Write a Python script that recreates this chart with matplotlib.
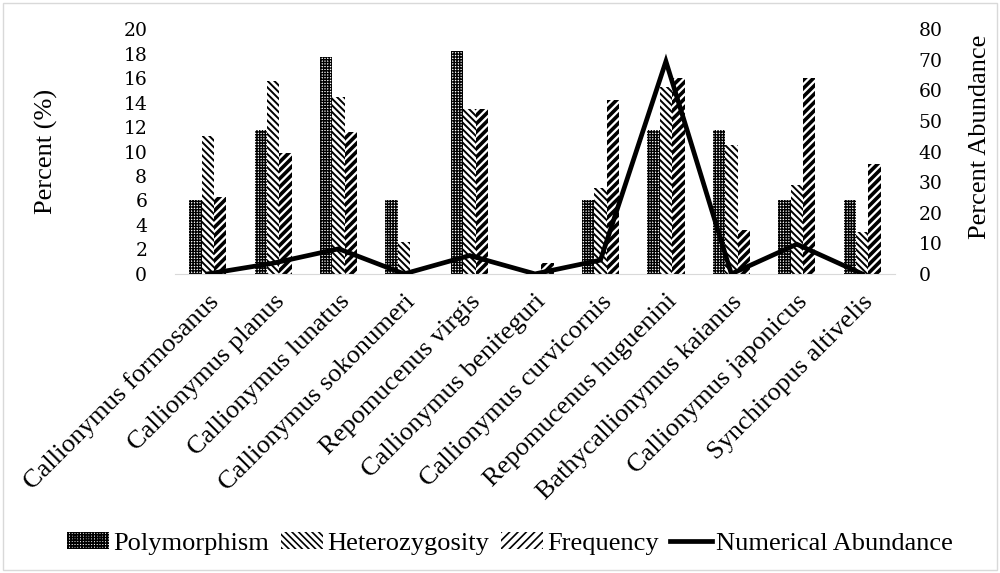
import numpy as np
import matplotlib
matplotlib.use("Agg")
import matplotlib.pyplot as plt
from matplotlib.patches import Rectangle
from matplotlib.lines import Line2D

species = ["Callionymus formosanus", "Callionymus planus", "Callionymus lunatus",
           "Callionymus sokonumeri", "Repomucenus virgis", "Callionymus beniteguri",
           "Callionymus curvicornis", "Repomucenus huguenini", "Bathycallionymus kaianus",
           "Callionymus japonicus", "Synchiropus altivelis"]
polymorphism = [6.0, 11.8, 17.7, 6.0, 18.2, 0.0, 6.0, 11.8, 11.8, 6.0, 6.0]
heterozygosity = [11.3, 15.8, 14.5, 2.6, 13.5, 0.0, 7.0, 15.3, 10.5, 7.3, 3.4]
frequency = [6.3, 9.9, 11.6, 0.0, 13.5, 0.9, 14.2, 16.0, 3.6, 16.0, 9.0]
abundance = [0.0, 3.5, 8.2, 0.0, 6.0, 0.0, 4.5, 69.5, 0.0, 9.7, 0.0]

plt.rcParams["font.family"] = ["Liberation Serif", "DejaVu Serif"]
plt.rcParams["hatch.color"] = "black"
plt.rcParams["hatch.linewidth"] = 1.2

# hatch pattern + hatch line width for each bar series
STYLES = [("++++++", 1.0), ("\\\\\\\\\\", 1.4), ("////", 2.6)]


def styled(patch, i):
    patch.set_hatch(STYLES[i][0])
    if hasattr(patch, "set_hatch_linewidth"):
        patch.set_hatch_linewidth(STYLES[i][1])
    return patch


fig = plt.figure(figsize=(10, 5.73), dpi=100)
ax = fig.add_axes([0.175, 0.522, 0.72, 0.427])
ax2 = ax.twinx()

x = np.arange(len(species))
w = 0.19
for i, vals in enumerate([polymorphism, heterozygosity, frequency]):
    bars = ax.bar(x + (i - 1) * w, vals, w, facecolor="white", edgecolor="black", linewidth=0)
    for b in bars:
        styled(b, i)
ax2.plot(x, abundance, color="black", linewidth=3.4, solid_joinstyle="miter")

ax.set_xlim(-0.5, len(species) - 0.5)
ax.set_ylim(0, 20)
ax2.set_ylim(0, 80)
ax.set_yticks(np.arange(0, 21, 2))
ax2.set_yticks(np.arange(0, 81, 10))

for a in (ax, ax2):
    for s in a.spines.values():
        s.set_visible(False)
    a.tick_params(length=0)
    for t in a.get_yticklabels():
        t.set_fontfamily("DejaVu Serif")
        t.set_fontsize(13.5)
ax.spines["bottom"].set_visible(True)
ax.spines["bottom"].set_color("#d9d9d9")
ax.tick_params(axis="y", pad=20)
ax2.tick_params(axis="y", pad=17)

ax.set_xticks(x)
ax.set_xticklabels(species, rotation=45, ha="right", rotation_mode="anchor", fontsize=19)
ax.tick_params(axis="x", pad=12)

ax.set_ylabel("Percent (%)", fontsize=19)
ax.yaxis.set_label_coords(-0.162, 0.5)
ax2.set_ylabel("Percent Abundance", fontsize=19, rotation=90)
ax2.yaxis.set_label_coords(1.103, 0.56)

handles = [styled(Rectangle((0, 0), 1, 1, facecolor="white", edgecolor="black", linewidth=0), i)
           for i in range(3)]
handles.append(Line2D([0], [0], color="black", linewidth=3.4))
fig.legend(handles, ["Polymorphism", "Heterozygosity", "Frequency", "Numerical Abundance"],
           loc="center", bbox_to_anchor=(0.51, 0.052), ncol=4, frameon=False,
           fontsize=19, handlelength=1.6, handleheight=0.6, handletextpad=0.15,
           columnspacing=0.45)

fig.patches.append(Rectangle((0.003, 0.005), 0.994, 0.99, transform=fig.transFigure,
                             fill=False, edgecolor="#d9d9d9", linewidth=1))

fig.savefig("out.png", dpi=100, facecolor="white")
